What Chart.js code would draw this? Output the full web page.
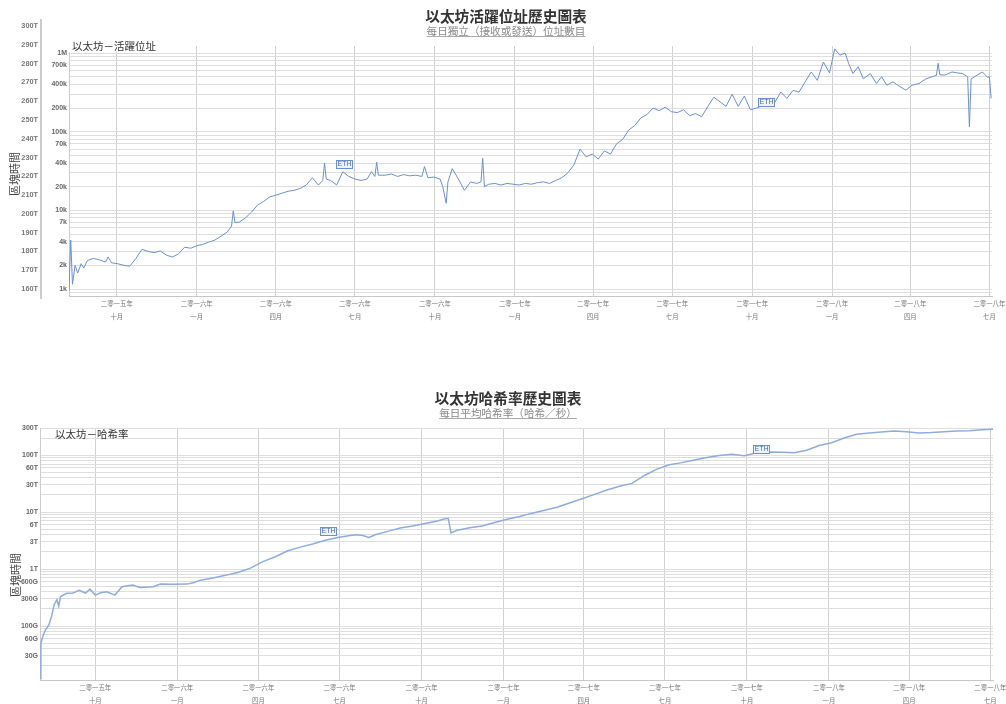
<!DOCTYPE html>
<html>
<head>
<meta charset="utf-8">
<script src="https://cdn.jsdelivr.net/npm/chart.js@4.4.1/dist/chart.umd.min.js"></script>
<style>
  body { margin: 0; background: #fff; width: 1006px; height: 704px; overflow: hidden; position: relative; font-family: "Noto Sans CJK TC", sans-serif; }
  canvas { position: absolute; left: 0; }
  .title { position: absolute; text-align: center; font-weight: bold; font-size: 14.7px; line-height: 18px; color: #333; white-space: nowrap; }
  .sub { position: absolute; text-align: center; font-size: 10.6px; line-height: 12px; color: #8a8a8a; text-decoration: underline; text-decoration-color: #aaa; text-underline-offset: 1px; white-space: nowrap; }
  .legend { position: absolute; font-size: 10.5px; line-height: 13px; color: #333; white-space: nowrap; }
  .axtitle { position: absolute; font-size: 11px; line-height: 11px; color: #444; white-space: nowrap; transform: translate(-50%, -50%) rotate(-90deg); }
</style>
</head>
<body>
<canvas id="blockAxis" width="60" height="330" style="top:0"></canvas>
<canvas id="addrChart" width="1006" height="330" style="top:0"></canvas>
<canvas id="hashChart" width="1006" height="320" style="top:384px"></canvas>

<div class="title" style="left:306px;width:400px;top:7px">以太坊活躍位址歷史圖表</div>
<div class="sub" style="left:306px;width:400px;top:25px">每日獨立（接收或發送）位址數目</div>
<div class="legend" style="left:69px;top:39px;width:108px;padding-left:3px;background:#fff">以太坊－活躍位址</div>
<div class="axtitle" style="left:14px;top:174px">區塊時間</div>

<div class="title" style="left:308px;width:400px;top:389px">以太坊哈希率歷史圖表</div>
<div class="sub" style="left:308px;width:400px;top:407px">每日平均哈希率（哈希／秒）</div>
<div class="legend" style="left:55px;top:427px">以太坊－哈希率</div>
<div class="axtitle" style="left:15px;top:575px">區塊時間</div>

<script>
// daily active addresses
const addrDates = [
  '2015-08-07','2015-08-09','2015-08-11','2015-08-14','2015-08-17','2015-08-21','2015-08-24','2015-08-28',
  '2015-09-04','2015-09-11','2015-09-18','2015-09-21','2015-09-25','2015-10-02','2015-10-09','2015-10-16',
  '2015-10-23','2015-10-30','2015-11-06','2015-11-13','2015-11-20','2015-11-27','2015-12-04','2015-12-11',
  '2015-12-18','2015-12-25','2016-01-01','2016-01-08','2016-01-15','2016-01-22','2016-01-29','2016-02-05',
  '2016-02-10','2016-02-12','2016-02-14','2016-02-19','2016-02-26','2016-03-04','2016-03-11','2016-03-18',
  '2016-03-25','2016-04-01','2016-04-08','2016-04-15','2016-04-22','2016-04-29','2016-05-06','2016-05-13',
  '2016-05-20','2016-05-25','2016-05-27','2016-05-29','2016-06-03','2016-06-10','2016-06-17','2016-06-24',
  '2016-07-01','2016-07-08','2016-07-15','2016-07-20','2016-07-24','2016-07-26','2016-07-28','2016-08-05',
  '2016-08-12','2016-08-19','2016-08-26','2016-09-02','2016-09-09','2016-09-16','2016-09-19','2016-09-23',
  '2016-09-30','2016-10-07','2016-10-10','2016-10-14','2016-10-16','2016-10-21','2016-10-28','2016-11-04',
  '2016-11-11','2016-11-18','2016-11-23','2016-11-25','2016-11-27','2016-12-02','2016-12-09','2016-12-16',
  '2016-12-23','2016-12-30','2017-01-06','2017-01-13','2017-01-20','2017-01-27','2017-02-03','2017-02-10',
  '2017-02-17','2017-02-24','2017-03-03','2017-03-10','2017-03-17','2017-03-24','2017-03-31','2017-04-07',
  '2017-04-14','2017-04-21','2017-04-28','2017-05-05','2017-05-12','2017-05-19','2017-05-26','2017-06-02',
  '2017-06-09','2017-06-16','2017-06-23','2017-06-30','2017-07-07','2017-07-14','2017-07-21','2017-07-28',
  '2017-08-04','2017-08-11','2017-08-18','2017-08-25','2017-09-01','2017-09-08','2017-09-15','2017-09-22',
  '2017-09-29','2017-10-06','2017-10-13','2017-10-20','2017-10-27','2017-11-03','2017-11-10','2017-11-17',
  '2017-11-24','2017-12-01','2017-12-08','2017-12-15','2017-12-22','2017-12-29','2018-01-04','2018-01-10',
  '2018-01-16','2018-01-20','2018-01-25','2018-01-31','2018-02-06','2018-02-14','2018-02-21','2018-02-27',
  '2018-03-05','2018-03-12','2018-03-20','2018-03-27','2018-04-03','2018-04-11','2018-04-19','2018-04-26',
  '2018-05-01','2018-05-03','2018-05-05','2018-05-11','2018-05-19','2018-05-25','2018-05-31','2018-06-06',
  '2018-06-08','2018-06-10','2018-06-17','2018-06-23','2018-06-29','2018-07-01','2018-07-03'
];
const addrValues = [
  950, 4200, 1150, 2000, 1600, 2100, 1850, 2300,
  2450, 2350, 2200, 2550, 2150, 2100, 2000, 1950,
  2450, 3200, 3000, 2900, 3050, 2700, 2550, 2800,
  3400, 3300, 3550, 3700, 3950, 4200, 4700, 5300,
  6300, 9800, 7000, 7100, 8000, 9500, 11700, 13000,
  14800, 15600, 16500, 17500, 18000, 19000, 21000, 26000,
  21000, 24000, 40000, 25000, 24000, 21000, 31000, 27000,
  25000, 24000, 25000, 31000, 27000, 41000, 28000, 28000,
  29000, 27000, 28500, 27500, 28000, 27000, 36000, 26000,
  26500, 25000, 20000, 12300, 23000, 34000, 25000, 18000,
  23000, 22000, 23000, 46000, 20000, 21500, 22000, 21000,
  22000, 21500, 21000, 22000, 21500, 22500, 23000, 22000,
  24000, 26000, 30000, 38000, 60000, 48000, 52000, 45000,
  57000, 52000, 70000, 80000, 105000, 120000, 150000, 165000,
  200000, 185000, 205000, 180000, 175000, 190000, 160000, 170000,
  155000, 210000, 275000, 240000, 210000, 300000, 210000, 285000,
  190000, 200000, 215000, 225000, 235000, 320000, 265000, 335000,
  320000, 430000, 575000, 450000, 770000, 560000, 1130000, 940000,
  1000000, 740000, 550000, 670000, 470000, 550000, 410000, 500000,
  390000, 430000, 375000, 337000, 390000, 410000, 470000, 500000,
  520000, 740000, 530000, 525000, 575000, 560000, 550000, 500000,
  115000, 470000, 525000, 575000, 490000, 500000, 265000
];

// daily average hash rate (hashes / second)
const hashDates = [
  '2015-07-31','2015-08-01','2015-08-03','2015-08-06','2015-08-10','2015-08-13','2015-08-16','2015-08-19',
  '2015-08-21','2015-08-23','2015-08-30','2015-09-06','2015-09-13','2015-09-20','2015-09-25','2015-10-01',
  '2015-10-07','2015-10-14','2015-10-23','2015-10-31','2015-11-12','2015-11-20','2015-12-05','2015-12-13',
  '2015-12-27','2016-01-12','2016-01-19','2016-01-27','2016-02-10','2016-02-24','2016-03-09','2016-03-23',
  '2016-04-06','2016-04-20','2016-05-04','2016-05-18','2016-06-01','2016-06-15','2016-06-29','2016-07-13',
  '2016-07-20','2016-07-27','2016-08-03','2016-08-10','2016-08-24','2016-09-07','2016-09-21','2016-10-05',
  '2016-10-19','2016-10-26','2016-10-31','2016-11-03','2016-11-10','2016-11-24','2016-12-08','2016-12-22',
  '2017-01-05','2017-01-19','2017-02-02','2017-02-16','2017-03-02','2017-03-16','2017-03-30','2017-04-13',
  '2017-04-27','2017-05-11','2017-05-25','2017-06-08','2017-06-22','2017-07-06','2017-07-20','2017-08-03',
  '2017-08-17','2017-08-31','2017-09-14','2017-09-28','2017-10-12','2017-10-26','2017-11-09','2017-11-23',
  '2017-12-07','2017-12-21','2018-01-04','2018-01-18','2018-02-01','2018-02-15','2018-03-01','2018-03-15',
  '2018-03-29','2018-04-12','2018-04-26','2018-05-10','2018-05-24','2018-06-07','2018-06-21','2018-07-04'
];
const hashValues = [
  12e9, 50e9, 65e9, 85e9, 105e9, 150e9, 240e9, 290e9,
  225e9, 330e9, 375e9, 380e9, 425e9, 380e9, 445e9, 350e9,
  385e9, 400e9, 350e9, 490e9, 525e9, 477e9, 490e9, 545e9,
  540e9, 545e9, 575e9, 640e9, 700e9, 780e9, 870e9, 1.04e12,
  1.35e12, 1.65e12, 2.1e12, 2.43e12, 2.75e12, 3.2e12, 3.6e12, 3.9e12,
  4.0e12, 3.9e12, 3.6e12, 4.0e12, 4.6e12, 5.25e12, 5.7e12, 6.3e12,
  7.0e12, 7.6e12, 7.8e12, 4.3e12, 4.8e12, 5.3e12, 5.7e12, 6.6e12,
  7.5e12, 8.4e12, 9.6e12, 10.8e12, 12.2e12, 14.5e12, 17.2e12, 20.5e12,
  24.5e12, 28.5e12, 32e12, 44e12, 57e12, 68e12, 74e12, 82e12,
  91e12, 99e12, 104e12, 98e12, 110e12, 114e12, 112e12, 110e12,
  122e12, 148e12, 165e12, 200e12, 232e12, 245e12, 255e12, 265e12,
  258e12, 246e12, 250e12, 258e12, 265e12, 268e12, 280e12, 285e12
];

const quarterDates = ['2015-10-01','2016-01-01','2016-04-01','2016-07-01','2016-10-01','2017-01-01',
                      '2017-04-01','2017-07-01','2017-10-01','2018-01-01','2018-04-01','2018-07-01'];
const quarterYears = ['二零一五年','二零一六年','二零一六年','二零一六年','二零一六年','二零一七年',
                      '二零一七年','二零一七年','二零一七年','二零一八年','二零一八年','二零一八年'];
const quarterMonths = ['十月','一月','四月','七月','十月','一月','四月','七月','十月','一月','四月','七月'];

const addrTickValues = [1e3, 2e3, 4e3, 7e3, 1e4, 2e4, 4e4, 7e4, 1e5, 2e5, 4e5, 7e5, 1e6];
const addrTickLabels = ['1k','2k','4k','7k','10k','20k','40k','70k','100k','200k','400k','700k','1M'];
const hashTickValues = [3e10, 6e10, 1e11, 3e11, 6e11, 1e12, 3e12, 6e12, 1e13, 3e13, 6e13, 1e14, 3e14];
const hashTickLabels = ['30G','60G','100G','300G','600G','1T','3T','6T','10T','30T','60T','100T','300T'];
const blockTimeTicks = [160, 170, 180, 190, 200, 210, 220, 230, 240, 250, 260, 270, 280, 290, 300];

const flagText = 'ETH';
const flagDates = ['2016-06-18', '2017-10-17'];
const addrFlagValues = [34500, 211000];
const hashFlagValues = [3.95e12, 1.08e14];

function dayNum(s) {
  const [y, m, d] = s.split('-').map(Number);
  return Date.UTC(y, m - 1, d) / 864e5;
}

const labelFont = { family: '"Liberation Sans", Arial, sans-serif', size: 7, weight: 'bold' };

function timeAxis(min, max, height) {
  return {
    type: 'linear',
    min: dayNum(min),
    max: dayNum(max),
    afterBuildTicks: s => { s.ticks = quarterDates.map(d => ({ value: dayNum(d) })); },
    afterFit: s => { s.height = height; s.paddingLeft = 0; s.paddingRight = 0; },
    ticks: {
      autoSkip: false, maxRotation: 0, padding: 1, color: '#777',
      font: { family: '"Noto Sans CJK TC", sans-serif', size: 6.4, lineHeight: '13px' },
      callback: (v, i) => [quarterYears[i], quarterMonths[i]]
    },
    grid: { color: '#d0d0d0', drawTicks: false },
    border: { color: '#c8c8c8' }
  };
}

function logAxis(min, max, width, tickValues, tickLabels) {
  return {
    type: 'logarithmic',
    min: min,
    max: max,
    afterBuildTicks: s => {
      s.ticks = s.ticks.filter(t => {
        const e = Math.floor(Math.log10(t.value) + 1e-9);
        const m = t.value / Math.pow(10, e);
        return Math.abs(m - Math.round(m)) < 1e-6 && t.value >= min && t.value <= max;
      });
    },
    afterFit: s => { s.width = width; },
    ticks: {
      autoSkip: false, padding: 2, color: '#666', font: labelFont,
      callback: v => {
        const i = tickValues.findIndex(t => Math.abs(t - v) / t < 1e-6);
        return i < 0 ? '' : tickLabels[i];
      }
    },
    grid: { color: '#dedede', drawTicks: false },
    border: { color: '#ccc' }
  };
}

const flagPlugin = {
  id: 'ethFlags',
  afterDatasetsDraw(chart, args, opts) {
    const { ctx, scales } = chart;
    ctx.save();
    flagDates.forEach((d, i) => {
      const px = Math.round(scales.x.getPixelForValue(dayNum(d)));
      const py = Math.round(scales.y.getPixelForValue(opts.values[i]));
      ctx.fillStyle = '#eef2fa';
      ctx.strokeStyle = '#6b8fd4';
      ctx.lineWidth = 1;
      ctx.fillRect(px - 8 + 0.5, py - 8 + 0.5, 16, 8);
      ctx.strokeRect(px - 8 + 0.5, py - 8 + 0.5, 16, 8);
      ctx.fillStyle = '#4a70bd';
      ctx.font = '7px "Liberation Sans", Arial, sans-serif';
      ctx.textAlign = 'center';
      ctx.textBaseline = 'middle';
      ctx.fillText(flagText, px + 0.5, py - 3.5);
    });
    ctx.restore();
  }
};

const common = {
  responsive: false,
  animation: false,
  events: [],
  plugins: { legend: { display: false }, tooltip: { enabled: false } }
};

// left-most block time axis
new Chart(document.getElementById('blockAxis'), {
  type: 'line',
  data: { datasets: [] },
  options: {
    ...common,
    layout: { padding: { top: 20, bottom: 32, left: 0, right: 0 } },
    scales: {
      x: { type: 'linear', display: false },
      y: {
        type: 'linear', min: 155.2, max: 303.2,
        afterBuildTicks: s => { s.ticks = blockTimeTicks.map(v => ({ value: v })); },
        afterFit: s => { s.width = 41; },
        ticks: { padding: 3, color: '#777', font: { ...labelFont, size: 7.3 }, callback: v => v + 'T' },
        grid: { display: false, drawTicks: false },
        border: { color: '#ccc', width: 2 }
      }
    }
  }
});

new Chart(document.getElementById('addrChart'), {
  type: 'line',
  data: {
    datasets: [{
      data: addrDates.map((d, i) => ({ x: dayNum(d), y: addrValues[i] })),
      borderColor: '#6b8fd4',
      borderWidth: 1,
      pointRadius: 0,
      tension: 0
    }]
  },
  options: {
    ...common,
    layout: { padding: { top: 46, right: 14, left: 0, bottom: 0 } },
    plugins: { ...common.plugins, ethFlags: { values: addrFlagValues } },
    scales: {
      x: timeAxis('2015-08-07', '2018-07-04', 34),
      y: logAxis(815, 1.23e6, 69, addrTickValues, addrTickLabels)
    }
  },
  plugins: [flagPlugin]
});

new Chart(document.getElementById('hashChart'), {
  type: 'line',
  data: {
    datasets: [{
      data: hashDates.map((d, i) => ({ x: dayNum(d), y: hashValues[i] })),
      borderColor: '#8eacdf',
      borderWidth: 1.5,
      pointRadius: 0,
      tension: 0
    }]
  },
  options: {
    ...common,
    layout: { padding: { top: 44, right: 13, left: 0, bottom: 0 } },
    plugins: { ...common.plugins, ethFlags: { values: hashFlagValues } },
    scales: {
      x: timeAxis('2015-07-31', '2018-07-04', 24),
      y: logAxis(11.3e9, 3e14, 40, hashTickValues, hashTickLabels)
    }
  },
  plugins: [flagPlugin]
});
</script>
</body>
</html>
